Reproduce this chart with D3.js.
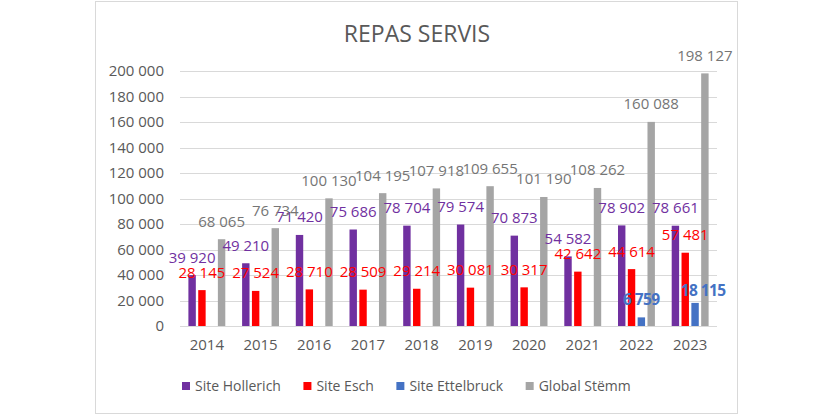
<!DOCTYPE html>
<html><head><meta charset="utf-8">
<script src="https://cdn.jsdelivr.net/npm/d3@7"></script>
<style>
html,body{margin:0;padding:0;background:#fff;}
svg{display:block;font-family:"Open Sans",sans-serif;}
</style></head>
<body><svg id="c" width="833" height="416"></svg>
<script>
(function(){
const title = "REPAS SERVIS";
const years = ["2014","2015","2016","2017","2018","2019","2020","2021","2022","2023"];
const seriesNames = ["Site Hollerich","Site Esch","Site Ettelbruck","Global Stëmm"];
const hollerich = [39920,49210,71420,75686,78704,79574,70873,54582,78902,78661];
const esch = [28145,27524,28710,28509,29214,30081,30317,42642,44614,57481];
const ettelbruck = [null,null,null,null,null,null,null,null,6759,18115];
const global = [68065,76734,100130,104195,107918,109655,101190,108262,160088,198127];
const yTicks = [0,20000,40000,60000,80000,100000,120000,140000,160000,180000,200000];

const colors = ["#7030A0","#FF0000","#4472C4","#A5A5A5"];
const labelColors = ["#7030A0","#FF0000","#4472C4","#757575"];
const seriesVals = [hollerich, esch, ettelbruck, global];

const svg = d3.select("#c");
const fmt = v => d3.format(",")(v).replace(/,/g," ");

svg.append("rect").attr("x",95.5).attr("y",1.5).attr("width",642).attr("height",412)
  .attr("fill","#fff").attr("stroke","#d9d9d9").attr("stroke-width",1);

svg.append("text").attr("x",417).attr("y",42).attr("text-anchor","middle")
  .attr("font-size",23).attr("fill","#595959").text(title);

const pl=180, pr=717, pt=71, pb=326;
const x0 = d3.scaleBand().domain(years).range([pl,pr]).padding(0);
const x1 = d3.scaleBand().domain(d3.range(4)).range([8.4, x0.bandwidth()-8.4]).paddingInner(0.245).paddingOuter(0);
const y = d3.scaleLinear().domain([0,200000]).range([pb,pt]);

svg.append("g").selectAll("line").data(yTicks).join("line")
  .attr("x1",pl).attr("x2",pr)
  .attr("y1",d=>Math.round(y(d))+0.5).attr("y2",d=>Math.round(y(d))+0.5)
  .attr("stroke","#d9d9d9").attr("stroke-width",1);

const yAxis = d3.axisLeft(y).tickValues(yTicks).tickSize(0).tickPadding(0).tickFormat(fmt);
const ga = svg.append("g").attr("transform",`translate(${pl-16},0)`).call(yAxis);
ga.select(".domain").remove();
ga.selectAll("text").attr("font-size",15).attr("fill","#595959").attr("font-family","Open Sans");

const xAxis = d3.axisBottom(x0).tickSize(0).tickPadding(0);
const gx = svg.append("g").attr("transform",`translate(0,${pb+13})`).call(xAxis);
gx.select(".domain").remove();
gx.selectAll("text").attr("font-size",15).attr("fill","#595959").attr("font-family","Open Sans");

seriesVals.forEach((vals,si)=>{
  const g = svg.append("g");
  const data = years.map((yr,i)=>({yr, v: vals[i]})).filter(d=>d.v!=null);
  g.selectAll("rect").data(data).join("rect")
    .attr("x",d=>x0(d.yr)+x1(si)).attr("width",x1.bandwidth())
    .attr("y",d=>y(d.v)).attr("height",d=>y(0)-y(d.v))
    .attr("fill",colors[si]);
});
// draw labels; the Ettelbruck labels last so they sit on top
[0,1,3,2].forEach(si=>{
  const vals = seriesVals[si];
  const g = svg.append("g");
  const data = years.map((yr,i)=>({yr, i, v: vals[i]})).filter(d=>d.v!=null);
  // last Ettelbruck label was moved right/down in the original layout
  const nudge = d => (si===2 && d.i===years.length-1) ? [8,6] : [0,0];
  g.selectAll("text").data(data).join("text")
    .attr("x",d=>x0(d.yr)+x1(si)+x1.bandwidth()/2+nudge(d)[0])
    .attr("y",d=>y(d.v)-12.5+nudge(d)[1])
    .attr("text-anchor","middle")
    .attr("font-size",si===2?15.5:15)
    .attr("font-weight",si===2?"bold":"normal")
    .attr("letter-spacing",si===2?"-0.6":"0")
    .attr("fill",labelColors[si]).text(d=>fmt(d.v));
});

const lg = svg.append("g").attr("transform","translate(182,386)");
let lx = 0;
seriesNames.forEach((n,i)=>{
  const it = lg.append("g").attr("transform",`translate(${lx},0)`);
  it.append("rect").attr("x",0).attr("y",-4).attr("width",8).attr("height",8).attr("fill",colors[i]);
  const t = it.append("text").attr("x",13).attr("y",5).attr("font-size",14).attr("fill","#595959").text(n);
  lx += 13 + t.node().getComputedTextLength() + 22.5;
});
})();
</script></body></html>
